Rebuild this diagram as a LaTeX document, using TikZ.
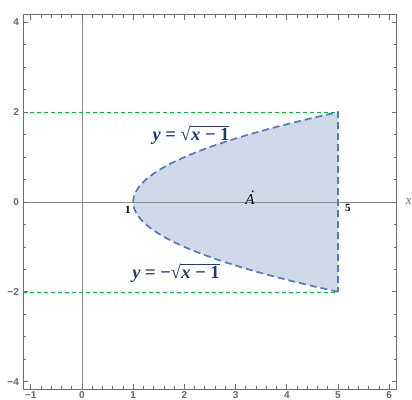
\documentclass[tikz,border=0pt]{standalone}
\usepackage{fontspec}
\newfontfamily\ticksf{Liberation Sans}
\newfontfamily\eqfont{Liberation Serif}
\definecolor{regionfill}{HTML}{CED9E9}
\definecolor{edgeblue}{HTML}{5677BC}
\definecolor{guidegreen}{HTML}{00B83C}
\definecolor{eqnavy}{HTML}{253A68}
\definecolor{framegray}{HTML}{6E6E6E}
\definecolor{axisgray}{HTML}{8A8A8A}
\definecolor{labgray}{HTML}{666666}
\newsavebox\radbox
\newcommand\ovbar[1]{\sbox\radbox{#1}\rlap{\raisebox{\dimexpr\ht\radbox+1.5pt\relax}{\rule{\wd\radbox}{1.2pt}}}\usebox\radbox}
\newcommand\eqtoptext{\eqfont\bfseries\itshape y\upshape{} = √\kern-0.6pt\ovbar{\kern1pt\itshape x\upshape{} − 1}}
\newcommand\eqbottext{\eqfont\bfseries\itshape y\upshape{} = −√\kern-0.6pt\ovbar{\kern1pt\itshape x\upshape{} − 1}}
\newcommand\dotA{\eqfont\itshape\rlap{\kern6pt\raisebox{11.5pt}{.}}A}
\tikzset{
  framestyle/.style={draw=framegray,line width=1pt},
  tickstyle/.style={draw=framegray,line width=0.8pt},
  axisstyle/.style={draw=axisgray,line width=1pt},
  edgestyle/.style={draw=edgeblue,line width=1.7pt,dash pattern=on 7pt off 4pt},
  guidestyle/.style={draw=guidegreen,line width=1.1pt,dash pattern=on 4pt off 3pt},
  ticklab/.style={font=\ticksf\bfseries\fontsize{10}{10}\selectfont,text=labgray,inner sep=0pt},
  eqlab/.style={text=eqnavy,font=\fontsize{18.5}{18.5}\selectfont,inner sep=0pt},
  ptlab/.style={font=\eqfont\bfseries\fontsize{11}{11}\selectfont,inner sep=0pt}
}
\begin{document}
\begin{tikzpicture}[x=51.2pt,y=44.9pt]
\useasboundingbox (-1.6016,-4.3875) rectangle (6.4453,4.4989);
\def\fL{-1.152}\def\fR{6.152}\def\fB{-4.165}\def\fT{4.165}
% region
\fill[regionfill] plot[variable=\tt,domain=-2:2,samples=80,smooth] ({\tt*\tt+1},\tt) -- cycle;
% axes
\draw[axisstyle] (\fL,0) -- (\fR,0);
\draw[axisstyle] (0,\fB) -- (0,\fT);
% guide lines
\draw[guidestyle] (\fL,-2.01) -- (5,-2.01);
\draw[guidestyle] (\fL,2) -- (5,2);
% boundary
\draw[edgestyle] plot[variable=\tt,domain=-2:2,samples=80,smooth] ({\tt*\tt+1},\tt) -- cycle;
% frame
\draw[framestyle] (\fL,\fB) rectangle (\fR,\fT);
\foreach \k in {-5,...,30}{
  \pgfmathsetmacro\mlen{ifthenelse(mod(\k+10,5)==0,5,3)}
  \draw[tickstyle] (\k/5,\fB) -- ++(0,\mlen pt);
  \draw[tickstyle] (\k/5,\fT) -- ++(0,-\mlen pt);
}
\foreach \k in {-8,...,8}{
  \pgfmathsetmacro\mlen{ifthenelse(mod(\k+8,4)==0,5,3)}
  \draw[tickstyle] (\fL,\k/2) -- ++(\mlen pt,0);
  \draw[tickstyle] (\fR,\k/2) -- ++(-\mlen pt,0);
}
% tick labels
\foreach \i/\lab in {4/4,2/2,0/0,-2/−2,-4/−4}{
  \node[ticklab,anchor=east] (ly\i) at (-1.23,\i) {\lab};
}
\foreach \i/\lab in {-1/−1,0/0,1/1,2/2,3/3,4/4,5/5,6/6}{
  \node[ticklab] (bx\i) at (\i,-4.29) {\lab};
}
\node[text=labgray,font=\eqfont\itshape\fontsize{13}{13}\selectfont,inner sep=0pt] (xl) at (6.38,0.02) {x};
% labels
\node[eqlab] (eqtop) at (2.129,1.492) {\eqtoptext};
\node[eqlab] (eqbot) at (1.836,-1.581) {\eqbottext};
\node[inner sep=0pt,anchor=base,font=\fontsize{15}{15}\selectfont] (ptA) at (3.28,-0.045) {\dotA};
\node[ptlab] (one) at (0.898,-0.178) {1};
\node[ptlab] (five) at (5.195,-0.134) {5};
\end{tikzpicture}
\end{document}
